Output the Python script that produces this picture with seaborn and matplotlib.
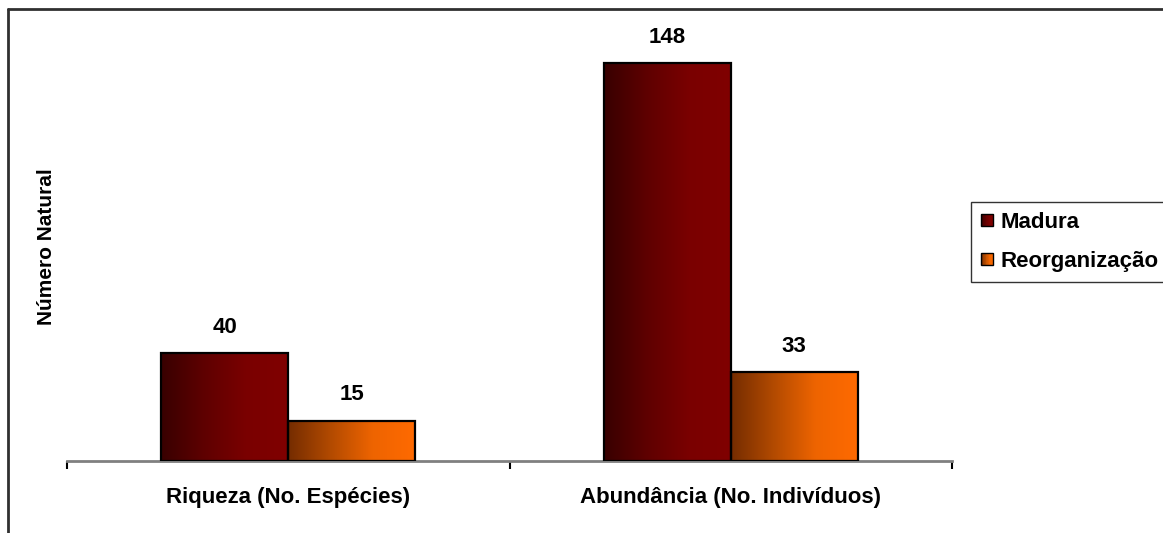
import numpy as np
import pandas as pd
import matplotlib
matplotlib.use("Agg")
import matplotlib.pyplot as plt
import seaborn as sns
from matplotlib.colors import LinearSegmentedColormap
from matplotlib.legend_handler import HandlerBase
from matplotlib.patches import Rectangle
from matplotlib.lines import Line2D

# Data
categories = ["Riqueza (No. Espécies)", "Abundância (No. Indivíduos)"]
series = ["Madura", "Reorganização"]
madura = [40, 148]
reorganizacao = [15, 33]

# Gradient colours per series (left -> right)
gradients = {
    "Madura": ["#380000", "#5e0000", "#7a0000", "#800000"],
    "Reorganização": ["#742c00", "#b24a00", "#ee6400", "#ff6a00"],
}

df = pd.DataFrame({
    "categoria": categories * 2,
    "serie": [series[0]] * 2 + [series[1]] * 2,
    "valor": madura + reorganizacao,
})

sns.set_theme(style="white")
plt.rcParams["font.family"] = ["Liberation Sans", "DejaVu Sans"]
plt.rcParams["font.weight"] = "bold"
plt.rcParams["text.color"] = "black"
plt.rcParams["axes.labelcolor"] = "black"
plt.rcParams["xtick.color"] = "black"

W, H = 1163, 533
fig = plt.figure(figsize=(W / 100, H / 100), dpi=100)
ax_left, ax_right, ax_bottom, ax_top = 67, 952, 461, 22
ax = fig.add_axes([ax_left / W, (H - ax_bottom) / H,
                   (ax_right - ax_left) / W, (ax_bottom - ax_top) / H])

sns.barplot(data=df, x="categoria", y="valor", hue="serie",
            hue_order=series, order=categories,
            palette=[gradients[s][-1] for s in series],
            width=0.574, gap=0, edgecolor="black", linewidth=1.6,
            legend=False, ax=ax)

ymax = (ax_bottom - ax_top) / 2.69

# Bars are added hue by hue: first all Madura bars, then Reorganização
bars = [p for p in ax.patches if isinstance(p, Rectangle) and p.get_width() > 0]
bar_series = [series[i // len(categories)] for i in range(len(bars))]

# Replace flat fills with horizontal gradients clipped to each bar
for p, s in zip(bars, bar_series):
    x0, w, h = p.get_x(), p.get_width(), p.get_height()
    cmap = LinearSegmentedColormap.from_list(s, gradients[s])
    grad = np.linspace(0, 1, 256).reshape(1, -1)
    im = ax.imshow(grad, cmap=cmap, aspect="auto", extent=[x0, x0 + w, 0, h],
                   origin="lower", zorder=2, interpolation="bilinear")
    im.set_clip_path(p)
    p.set_facecolor("none")
    p.set_zorder(3)
    ax.annotate(f"{h:.0f}", (x0 + w / 2, h), xytext=(0, 11),
                textcoords="offset points", ha="center", va="bottom",
                fontsize=16, fontweight="bold", color="black")

ax.set_xlim(-0.5, 1.5)
ax.set_ylim(0, ymax)

# Axes styling
for side in ["left", "top", "right"]:
    ax.spines[side].set_visible(False)
ax.spines["bottom"].set_color("#808080")
ax.spines["bottom"].set_linewidth(2)
ax.set_yticks([])
ax.set_xticks([0, 1])
ax.set_xticklabels(categories, fontsize=16, fontweight="bold", color="black")
ax.tick_params(axis="x", which="major", length=0, pad=19)
ax.set_xticks([-0.5, 0.5, 1.5], minor=True)
ax.tick_params(axis="x", which="minor", length=6, width=1.5, color="black",
               direction="out", bottom=True)
ax.set_xlabel("")
ax.set_ylabel("Número Natural", fontsize=15, fontweight="bold", color="black")
ax.yaxis.label.set_va("center")
ax.yaxis.set_label_coords((47 - ax_left) / (ax_right - ax_left),
                          (ax_bottom - 247) / (ax_bottom - ax_top))


# Legend keys with a left-to-right gradient
class GradientHandler(HandlerBase):
    def __init__(self, colors, steps=16):
        super().__init__()
        self.colors = colors
        self.steps = steps

    def create_artists(self, legend, orig_handle, xdescent, ydescent, width,
                       height, fontsize, trans):
        cmap = LinearSegmentedColormap.from_list("k", self.colors)
        side = min(width, height)
        x0 = -xdescent
        y0 = -ydescent + (height - side) / 2
        arts = []
        for i in range(self.steps):
            c = cmap((i + 0.5) / self.steps)
            arts.append(Rectangle((x0 + side * i / self.steps, y0),
                                  side / self.steps + 0.3, side,
                                  facecolor=c, edgecolor="none",
                                  transform=trans))
        arts.append(Rectangle((x0, y0), side, side, facecolor="none",
                              edgecolor="black", linewidth=1.0,
                              transform=trans))
        return arts


handles = [Rectangle((0, 0), 1, 1) for _ in series]
leg = fig.legend(handles, series,
                 handler_map={h: GradientHandler(gradients[s]) for h, s in zip(handles, series)},
                 loc="upper left", bbox_to_anchor=(971 / W, 1 - 202 / H),
                 bbox_transform=fig.transFigure, frameon=True, fancybox=False,
                 prop={"weight": "bold", "size": 16},
                 handlelength=0.55, handleheight=0.55, handletextpad=0.35,
                 labelspacing=0.8, borderpad=0.45, borderaxespad=0)
leg.get_frame().set_edgecolor("black")
leg.get_frame().set_linewidth(1.0)
for t in leg.get_texts():
    t.set_color("black")

# Outer chart frame
fig.add_artist(Line2D([8 / W, 8 / W], [1 - 9 / H, -0.05], transform=fig.transFigure,
                      color="#303030", linewidth=2))
fig.add_artist(Line2D([8 / W, 1.05], [1 - 9 / H, 1 - 9 / H], transform=fig.transFigure,
                      color="#303030", linewidth=2))

fig.savefig("out.png", dpi=100, facecolor="white")
